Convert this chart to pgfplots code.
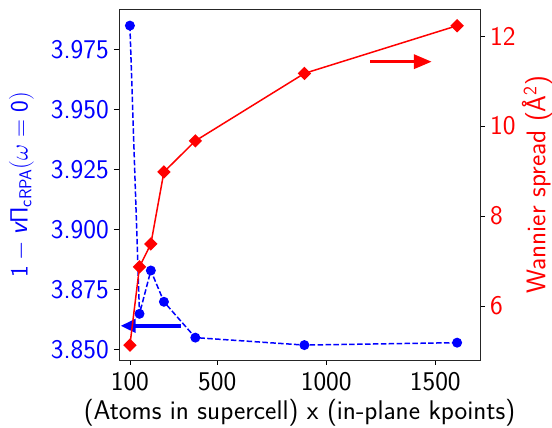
\documentclass[border=0pt]{standalone}
\usepackage{pgfplots}
\pgfplotsset{compat=1.18}
\usetikzlibrary{arrows.meta}
\definecolor{mblue}{RGB}{0,0,255}
\definecolor{mred}{RGB}{255,0,0}
\begin{document}
\sffamily\fontsize{27}{31}\selectfont
\begin{tikzpicture}
\pgfplotsset{
  every axis/.append style={
    scale only axis, width=361pt, height=350.5pt,
    xmin=50, xmax=1705,
    tick align=outside, major tick length=5pt,
    every tick/.style={black, line width=0.8pt},
    /pgf/number format/assume math mode=true,
    tick label style={font=\sffamily\fontsize{27}{31}\selectfont, inner xsep=5pt, inner ysep=7pt},
    label style={font=\sffamily\fontsize{27}{31}\selectfont},
    axis line style={line width=0.9pt, black!85},
  }
}
\begin{axis}[
  name=ax,
  ymin=3.8458, ymax=3.9915,
  xtick={100,500,1000,1500},
  xticklabels={100,500,1000,1500},
  ytick={3.850,3.875,3.900,3.925,3.950,3.975},
  yticklabels={3.850,3.875,3.900,3.925,3.950,3.975},
  xtick pos=bottom, ytick pos=left,
  yticklabel style={color=mblue},
  ylabel={\textcolor{mblue}{$\mathsf{1}-\mbox{\sffamily\slshape v}\mathsf{\Pi}_{\mathsf{cRPA}}(\omega=\mathsf{0})$}},
  xlabel={(Atoms in supercell) x (in-plane kpoints)},
  ylabel style={at={(axis description cs:-0.27,0.5)}, anchor=center, rotate=0},
  xlabel style={at={(axis description cs:0.5,-0.151)}, anchor=center},
]
\addplot[mblue, line width=1.5pt, dash pattern=on 5.5pt off 2.4pt, mark=*, mark size=4.2pt, mark options={solid}]
coordinates {(100,3.9848) (144,3.865) (196,3.883) (256,3.870) (400,3.8551) (900,3.852) (1600,3.853)};
\draw[mblue, line width=3.8pt, -{Triangle[length=15pt,width=13pt]}] (axis cs:333,3.860) -- (axis cs:57,3.860);
\end{axis}
\begin{axis}[
  ymin=4.8, ymax=12.59,
  axis x line=none, axis y line*=right,
  ytick={6,8,10,12}, yticklabels={6,8,10,12},
  yticklabel style={color=mred},
  ylabel={\textcolor{mred}{Wannier spread (Å\textsuperscript{2})}},
  ylabel style={at={(axis description cs:1.158,0.5)}, anchor=center},
]
\addplot[mred, line width=1.5pt, mark=square*, mark size=4pt, mark options={rotate=45}]
coordinates {(100,5.13) (144,6.87) (196,7.38) (256,8.98) (400,9.67) (900,11.17) (1600,12.23)};
\draw[mred, line width=3.5pt, -{Triangle[length=18pt,width=14pt]}] (axis cs:1201,11.43) -- (axis cs:1484,11.43);
\end{axis}
\pgfresetboundingbox
\path[use as bounding box] ([shift={(-119pt,-68pt)}]ax.south west) rectangle ([shift={(72pt,9.5pt)}]ax.north east);
\end{tikzpicture}
\end{document}
